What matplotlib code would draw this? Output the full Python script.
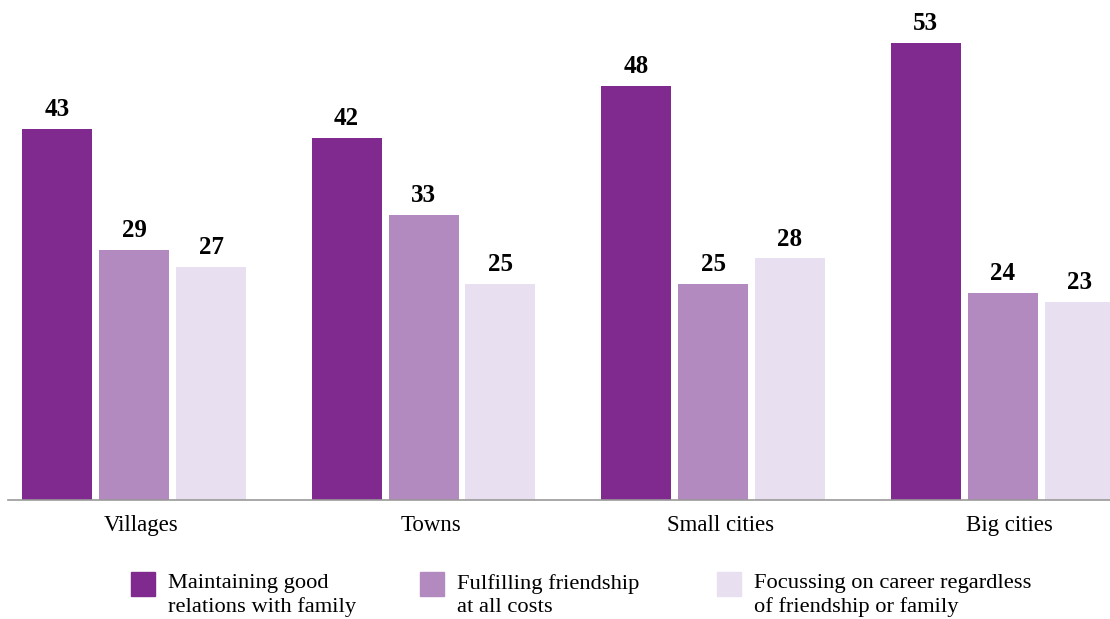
import matplotlib.pyplot as plt
from matplotlib.patches import Rectangle
import numpy as np

# Share of respondents by settlement type
categories = ["Villages", "Towns", "Small cities", "Big cities"]
family = [43, 42, 48, 53]
friendship = [29, 33, 25, 24]
career = [27, 25, 28, 23]

series_names = ["Maintaining good\nrelations with family",
                "Fulfilling friendship\nat all costs",
                "Focussing on career regardless\nof friendship or family"]
colors = ["#80298f", "#b28abf", "#e8e0f0"]

plt.rcParams['font.family'] = ['Liberation Serif', 'DejaVu Serif']

W, H = 1110, 619
fig = plt.figure(figsize=(W / 100, H / 100), dpi=100)
# axes from x=8px to right edge, baseline at y=500px
ax = fig.add_axes([8 / W, (H - 500) / H, 1 - 8 / W, 500 / H])

x = np.arange(len(categories))
step = 77 / 289.5
width = 70 / 289.5

for k, (vals, col) in enumerate(zip([family, friendship, career], colors)):
    xs = x + (k - 1) * step
    bars = ax.bar(xs, vals, width=width, color=col, zorder=2)
    for b, v in zip(bars, vals):
        ax.text(b.get_x() + b.get_width() / 2, v + 0.9, str(v),
                ha='center', va='bottom', fontsize=18, fontweight='bold')

ax.set_xlim(-126 / 289.5, (1110 - 134) / 289.5)
ax.set_ylim(0, 500 / 8.63)

for s in ['top', 'right', 'left']:
    ax.spines[s].set_visible(False)
ax.spines['bottom'].set_color('#999999')
ax.spines['bottom'].set_linewidth(1.2)
ax.set_yticks([])
ax.set_xticks(x + 0.025)
ax.set_xticklabels(categories, fontsize=16.5)
ax.tick_params(axis='x', length=0, pad=11)

# legend drawn as squares with two-line labels
leg_sq = [131, 420, 717]
for sx, name, col in zip(leg_sq, series_names, colors):
    fig.patches.append(Rectangle((sx / W, (H - 596) / H), 24 / W, 24 / H,
                                 transform=fig.transFigure, color=col))
    fig.text((sx + 37) / W, (H - 574) / H, name, fontsize=16.2,
             va='top', ha='left', linespacing=1.28)

fig.savefig("out.png", dpi=100)
